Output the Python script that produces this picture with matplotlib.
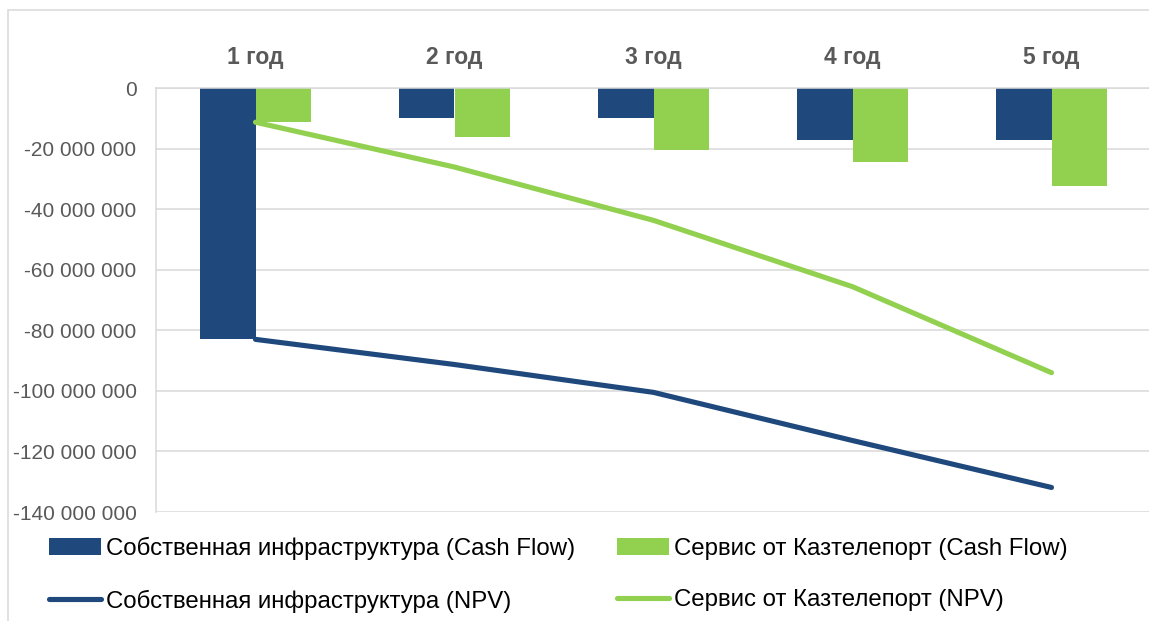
import matplotlib
matplotlib.use("Agg")
import matplotlib.pyplot as plt
import matplotlib.patches as mpatches
from matplotlib.ticker import FuncFormatter, MultipleLocator
import numpy as np

plt.rcParams['font.family'] = ['Liberation Sans', 'DejaVu Sans']
plt.rcParams['axes.unicode_minus'] = False

categories = ["1 год", "2 год", "3 год", "4 год", "5 год"]
own_cash_flow = [-83.0e6, -9.9e6, -9.9e6, -17.3e6, -17.3e6]
kaz_cash_flow = [-11.3e6, -16.2e6, -20.4e6, -24.5e6, -32.2e6]
own_npv = [-83.0e6, -91.3e6, -100.5e6, -116.4e6, -131.9e6]
kaz_npv = [-11.3e6, -26.1e6, -43.7e6, -65.6e6, -94.0e6]

label_own_cf = "Собственная инфраструктура (Cash Flow)"
label_kaz_cf = "Сервис от Казтелепорт (Cash Flow)"
label_own_npv = "Собственная инфраструктура (NPV)"
label_kaz_npv = "Сервис от Казтелепорт (NPV)"

DARK = "#1F497D"
GREEN = "#92D050"
GRID = "#D9D9D9"
TXT = "#595959"

W, H = 1149, 621
fig = plt.figure(figsize=(W / 100, H / 100), dpi=100)
ax = fig.add_axes([156 / W, 1 - 512 / H, 995 / W, 424 / H])

x = np.arange(len(categories))
bw = 0.277
b1 = ax.bar(x - bw / 2, own_cash_flow, width=bw, color=DARK, label=label_own_cf, zorder=2)
b2 = ax.bar(x + bw / 2, kaz_cash_flow, width=bw, color=GREEN, label=label_kaz_cf, zorder=2)
l1, = ax.plot(x, own_npv, color=DARK, lw=3.7, solid_capstyle='round', solid_joinstyle='round',
              label=label_own_npv, zorder=3)
l2, = ax.plot(x, kaz_npv, color=GREEN, lw=3.7, solid_capstyle='round', solid_joinstyle='round',
              label=label_kaz_npv, zorder=3)

ax.set_xlim(-0.5, len(categories) - 0.5)
ax.set_ylim(-140e6, 0)
ax.yaxis.set_major_locator(MultipleLocator(20e6))
ax.yaxis.set_major_formatter(FuncFormatter(lambda v, p: f"{int(round(v)):,}".replace(",", " ")))
ax.grid(axis='y', color=GRID, lw=1.1, zorder=0)
ax.set_axisbelow(True)

ax.xaxis.tick_top()
ax.set_xticks(x)
ax.set_xticklabels(categories, fontsize=16.5, fontweight='bold', color=TXT)
ax.tick_params(axis='x', length=0, pad=14)
ax.tick_params(axis='y', length=0, pad=14, labelsize=15, labelcolor=TXT)

for s in ['right', 'bottom']:
    ax.spines[s].set_visible(False)
ax.spines['top'].set_color(GRID)
ax.spines['top'].set_linewidth(1.1)
ax.spines['left'].set_color(GRID)
ax.spines['left'].set_linewidth(1.1)

# chart border
fig.patches.append(mpatches.Rectangle((8 / W, -0.05), 1.1, 1.05 - 10 / H, transform=fig.transFigure,
                                      fill=False, edgecolor=GRID, lw=1.1))

fig.legend([b1, l1, b2, l2], [label_own_cf, label_own_npv, label_kaz_cf, label_kaz_npv],
           ncol=2, loc='upper left', bbox_to_anchor=(49 / W, 1 - 537 / H), frameon=False,
           fontsize=17.3, handlelength=2.17, handletextpad=0.21, columnspacing=1.72,
           labelspacing=1.22, borderaxespad=0, borderpad=0)

fig.savefig("out.png", dpi=100)
